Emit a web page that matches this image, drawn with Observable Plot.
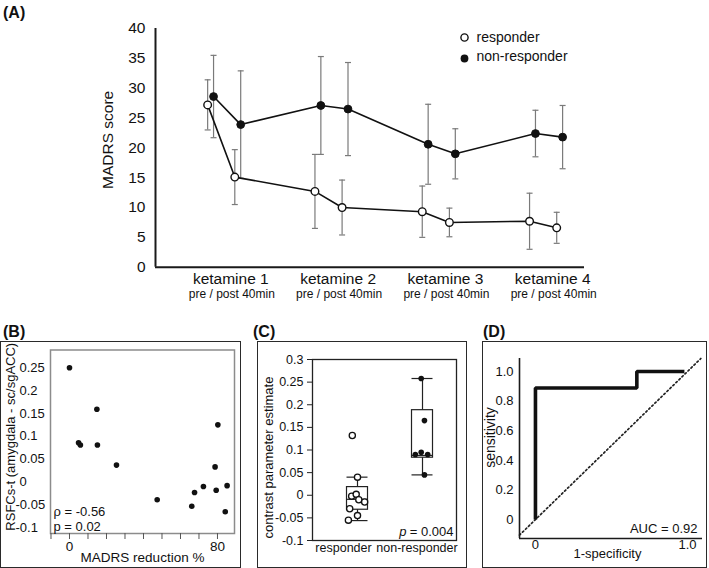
<!DOCTYPE html>
<html><head><meta charset="utf-8">
<script src="https://cdn.jsdelivr.net/npm/d3@7"></script>
<script src="https://cdn.jsdelivr.net/npm/@observablehq/plot@0.6"></script>
<style>
body{margin:0;background:#fff;font-family:"Liberation Sans",Arial,sans-serif;}
#root{position:relative;width:709px;height:568px;overflow:hidden;background:#fff;}
.panel{position:absolute;}
.box{position:absolute;border:1.5px solid #2a2a2a;box-sizing:border-box;}
.lab{position:absolute;font-weight:bold;font-size:16px;color:#111;line-height:16px;}
</style></head><body><div id="root"></div>
<script>
// ---------- Panel A data ----------
const sessions = ["ketamine 1", "ketamine 2", "ketamine 3", "ketamine 4"];
const sessionSub = "pre / post 40min";
const phases = ["pre", "post"];
const groups = ["responder", "non-responder"];
const responderMean = [27.2, 15.1, 12.7, 10.0, 9.3, 7.5, 7.7, 6.6];
const responderSD = [4.2, 4.6, 6.2, 4.6, 4.3, 2.4, 4.7, 2.6];
const nonResponderMean = [28.6, 23.9, 27.1, 26.5, 20.6, 19.0, 22.4, 21.8];
const nonResponderSD = [6.9, 9.0, 8.2, 7.8, 6.7, 4.2, 3.9, 5.3];
const madrsTicks = [0, 5, 10, 15, 20, 25, 30, 35, 40];

// ---------- Panel B data ----------
const madrsReduction = [0, 4.9, 5.9, 14.8, 15.1, 25.4, 47.4, 66.1, 67.6, 72.4, 78.7, 79.3, 80.2, 84.2, 85.2];
const rsfcs = [0.25, 0.086, 0.081, 0.159, 0.081, 0.037, -0.039, -0.053, -0.023, -0.010, 0.033, -0.018, 0.125, -0.065, -0.008];
const bYTicks = [-0.1, -0.05, 0, 0.05, 0.1, 0.15, 0.2, 0.25];
const bXTicks = [-10, 0, 10, 20, 30, 40, 50, 60, 70, 80];
const bXLabels = [0, 80];
const rhoText = "ρ = -0.56";
const pBText = "p = 0.02";

// ---------- Panel C data ----------
const responderEst = [0.132, 0.040, -0.002, 0.002, -0.010, -0.015, -0.030, -0.045, -0.055];
const responderJitter = [-0.08, 0, -0.09, -0.02, 0.02, 0.11, -0.12, 0, -0.14];
const nonResponderEst = [0.258, 0.165, 0.090, 0.095, 0.090, 0.045];
const nonResponderJitter = [-0.02, 0.03, -0.11, -0.02, 0.08, 0.03];
const boxQ1 = [-0.032, 0.083];
const boxMedian = [-0.009, 0.088];
const boxQ3 = [0.018, 0.188];
const whiskerLow = [-0.056, 0.045];
const whiskerHigh = [0.040, 0.258];
const cYTicks = [-0.1, -0.05, 0, 0.05, 0.1, 0.15, 0.2, 0.25, 0.3];
const pCText = " = 0.004";

// ---------- Panel D data ----------
const fpr = [0, 0, 0.667, 0.667, 0.98];
const tpr = [0, 0.889, 0.889, 1, 1];
const dTicks = [0, 0.2, 0.4, 0.6, 0.8, 1.0];
const dXTicks = [0, 1];
const aucText = "AUC = 0.92";

// ---------- helpers ----------
const FONT = "'Liberation Sans', Arial, sans-serif";
const INK = "#111";
const root = document.getElementById("root");
function place(el, left, top) {
  const d = document.createElement("div");
  d.className = "panel"; d.style.left = left + "px"; d.style.top = top + "px";
  d.appendChild(el); root.appendChild(d);
}
function box(left, top, w, h) {
  const d = document.createElement("div");
  d.className = "box";
  Object.assign(d.style, {left: left + "px", top: top + "px", width: w + "px", height: h + "px"});
  root.appendChild(d);
}
function label(t, left, top) {
  const d = document.createElement("div");
  d.className = "lab"; d.textContent = t;
  d.style.left = left + "px"; d.style.top = top + "px";
  root.appendChild(d);
}
const numFmt = d => String(+d.toFixed(2));
const capSymbol = {draw(ctx, size) { const w = Math.sqrt(size / Math.PI); ctx.moveTo(-w, 0); ctx.lineTo(w, 0); }};
const svgStyle = {fontFamily: FONT, color: INK, background: "transparent", overflow: "visible"};
const T = {textAnchor: "middle", lineAnchor: "middle"};

// ---------- Panel A ----------
const rowsA = [];
sessions.forEach((s, i) => {
  phases.forEach((p, j) => {
    const k = i * 2 + j;
    const base = (i + 1) + (p === "pre" ? -0.253 : 0);
    rowsA.push({group: groups[0], x: base, y: responderMean[k], sd: responderSD[k]});
    rowsA.push({group: groups[1], x: base + 0.055, y: nonResponderMean[k], sd: nonResponderSD[k]});
  });
});
const aX = [0.261, 4.259];
const resA = rowsA.filter(d => d.group === groups[0]);
const nonA = rowsA.filter(d => d.group === groups[1]);
const plotA = Plot.plot({
  width: 709, height: 310,
  marginLeft: 155, marginRight: 125, marginTop: 28, marginBottom: 43.3,
  style: svgStyle,
  x: {domain: aX},
  y: {domain: [0, 40]},
  marks: [
    Plot.ruleX(rowsA, {x: "x", y1: d => d.y - d.sd, y2: d => d.y + d.sd, stroke: "#7a7a7a", strokeWidth: 1.2}),
    Plot.dot(rowsA, {x: "x", y: d => d.y + d.sd, symbol: capSymbol, r: 3, stroke: "#7a7a7a", strokeWidth: 1.2}),
    Plot.dot(rowsA, {x: "x", y: d => d.y - d.sd, symbol: capSymbol, r: 3, stroke: "#7a7a7a", strokeWidth: 1.2}),
    Plot.line(resA, {x: "x", y: "y", stroke: INK, strokeWidth: 1.6}),
    Plot.line(nonA, {x: "x", y: "y", stroke: INK, strokeWidth: 1.6}),
    Plot.dot(resA, {x: "x", y: "y", r: 3.8, fill: "white", stroke: INK, strokeWidth: 1.4}),
    Plot.dot(nonA, {x: "x", y: "y", r: 3.9, fill: INK, stroke: INK, strokeWidth: 1}),
    Plot.ruleX([aX[0]], {stroke: "#1a1a1a", strokeWidth: 2}),
    Plot.ruleY([0], {stroke: "#1a1a1a", strokeWidth: 2}),
    Plot.axisY({ticks: madrsTicks, tickSize: 0, tickPadding: 10, fontSize: 15.5, label: null}),
    Plot.axisX({ticks: [1, 2, 3, 4], tickFormat: d => sessions[d - 1], tickSize: 0, tickPadding: 6, fontSize: 15.5, dx: -4, label: null}),
    Plot.axisX({ticks: [1, 2, 3, 4], tickFormat: () => sessionSub, tickSize: 0, tickPadding: 22, fontSize: 12, dx: -3, label: null}),
    Plot.text(["MADRS score"], {...T, frameAnchor: "left", rotate: -90, dx: -47, dy: -8, fontSize: 15.5}),
    Plot.dot([groups[0]], {frameAnchor: "top-right", dx: -120, dy: 9, r: 3.6, fill: "white", stroke: INK, strokeWidth: 1.4}),
    Plot.dot([groups[1]], {frameAnchor: "top-right", dx: -120, dy: 30, r: 3.9, fill: INK}),
    Plot.text([groups[0]], {text: d => d, frameAnchor: "top-right", dx: -108, dy: 9, textAnchor: "start", lineAnchor: "middle", fontSize: 14}),
    Plot.text([groups[1]], {text: d => d, frameAnchor: "top-right", dx: -108, dy: 28, textAnchor: "start", lineAnchor: "middle", fontSize: 14})
  ]
});
place(plotA, 0, 0);
label("(A)", 3, 5);

// ---------- Panel B ----------
const ptsB = madrsReduction.map((x, i) => ({x, y: rsfcs[i]}));
const plotB = Plot.plot({
  width: 241, height: 226,
  marginLeft: 50, marginRight: 7, marginTop: 7.5, marginBottom: 35,
  style: svgStyle,
  x: {domain: [-10.27, 89.2]},
  y: {domain: [-0.1127, 0.2888]},
  marks: [
    Plot.frame({stroke: "#8c8c8c", strokeWidth: 1.5}),
    Plot.axisY({ticks: bYTicks.filter(d => d >= 0), tickFormat: numFmt, tickSize: 0, tickPadding: 31, textAnchor: "start", fontSize: 13, label: null}),
    Plot.axisY({ticks: bYTicks.filter(d => d < 0), tickFormat: numFmt, tickSize: 0, tickPadding: 35, textAnchor: "start", fontSize: 13, label: null}),
    Plot.axisX({ticks: bXTicks, tickFormat: d => bXLabels.includes(d) ? String(d) : "", tickSize: 6, tickPadding: 1.5, fontSize: 13.5, stroke: "#555", label: null}),
    Plot.dot(ptsB, {x: "x", y: "y", r: 2.8, fill: INK}),
    Plot.text(["RSFCs-t (amygdala - sc/sgACC)"], {...T, frameAnchor: "left", rotate: -90, dx: -40, dy: -5, fontSize: 13}),
    Plot.text(["MADRS reduction %"], {...T, frameAnchor: "bottom", dy: 24, fontSize: 13.5}),
    Plot.text([rhoText], {frameAnchor: "bottom-left", dx: 3, dy: -22, textAnchor: "start", lineAnchor: "middle", fontSize: 13}),
    Plot.text([pBText], {frameAnchor: "bottom-left", dx: 3, dy: -7, textAnchor: "start", lineAnchor: "middle", fontSize: 13})
  ]
});
box(0, 341, 241, 226.5);
place(plotB, 0, 342);
label("(B)", 3, 324);

// ---------- Panel C ----------
const hw = 0.1615;
const boxes = [1, 2].map((x, i) => ({x, q1: boxQ1[i], med: boxMedian[i], q3: boxQ3[i], lo: whiskerLow[i], hi: whiskerHigh[i]}));
const ptsCr = responderEst.map((y, i) => ({x: 1 + responderJitter[i], y}));
const ptsCn = nonResponderEst.map((y, i) => ({x: 2 + nonResponderJitter[i], y}));
const plotC = Plot.plot({
  width: 209, height: 226,
  marginLeft: 55, marginRight: 10, marginTop: 17, marginBottom: 28,
  style: svgStyle,
  x: {domain: [0.3077, 2.523], axis: null},
  y: {domain: [-0.1, 0.3], axis: null},
  marks: [
    Plot.ruleX(boxes, {x: "x", y1: "lo", y2: "hi", stroke: "#222", strokeWidth: 1.2}),
    Plot.ruleY(boxes, {y: "hi", x1: d => d.x - hw, x2: d => d.x + hw, stroke: "#222", strokeWidth: 1.2}),
    Plot.ruleY(boxes, {y: "lo", x1: d => d.x - hw, x2: d => d.x + hw, stroke: "#222", strokeWidth: 1.2}),
    Plot.rect(boxes, {x1: d => d.x - hw, x2: d => d.x + hw, y1: "q1", y2: "q3", fill: "white", stroke: "#222", strokeWidth: 1.2}),
    Plot.ruleY(boxes, {y: "med", x1: d => d.x - hw, x2: d => d.x + hw, stroke: "#222", strokeWidth: 1.2}),
    Plot.dot(ptsCr, {x: "x", y: "y", r: 3.1, fill: "white", stroke: INK, strokeWidth: 1.3}),
    Plot.dot(ptsCn, {x: "x", y: "y", r: 2.8, fill: INK}),
    Plot.frame({stroke: "#222", strokeWidth: 1.3}),
    Plot.axisY({ticks: cYTicks, tickFormat: numFmt, tickSize: 5, tickPadding: 4, fontSize: 12.5, stroke: "#222", label: null}),
    Plot.text([groups[0]], {...T, text: d => d, x: 1, frameAnchor: "bottom", dx: -14, dy: 7, fontSize: 12.5}),
    Plot.text([groups[1]], {...T, text: d => d, x: 2, frameAnchor: "bottom", dx: -5.5, dy: 7, fontSize: 12.5}),
    Plot.text([pCText], {frameAnchor: "bottom-right", dx: -3, dy: -9, textAnchor: "end", lineAnchor: "middle", fontSize: 13}),
    Plot.text(["p"], {frameAnchor: "bottom-right", dx: -50, dy: -9, textAnchor: "end", lineAnchor: "middle", fontSize: 13, fontStyle: "italic"}),
    Plot.text(["contrast parameter estimate"], {...T, frameAnchor: "left", rotate: -90, dx: -44, dy: 7.5, fontSize: 13})
  ]
});
box(257, 341, 209.5, 226.5);
place(plotC, 257, 342);
label("(C)", 253, 324);

// ---------- Panel D ----------
const dX = [-0.105, 1.099];
const dY = [-0.128, 1.088];
const roc = fpr.map((x, i) => ({x, y: tpr[i]}));
const diag = [dX[0], dY[1]];
const plotD = Plot.plot({
  width: 225, height: 226,
  marginLeft: 37, marginRight: 5, marginTop: 16, marginBottom: 30,
  style: svgStyle,
  x: {domain: dX},
  y: {domain: dY},
  marks: [
    Plot.line(diag, {x: d => d, y: d => d, stroke: "#222", strokeWidth: 1.7, strokeDasharray: "1.6,2.6"}),
    Plot.line(roc, {x: "x", y: "y", stroke: INK, strokeWidth: 3.6, strokeLinejoin: "miter", strokeLinecap: "butt"}),
    Plot.ruleX([dX[0]], {stroke: "#1a1a1a", strokeWidth: 1.6}),
    Plot.ruleY([dY[0]], {stroke: "#1a1a1a", strokeWidth: 1.6}),
    Plot.axisY({ticks: dTicks, tickFormat: d => d === 0 ? "0" : d.toFixed(1), tickSize: 0, tickPadding: 6, fontSize: 13, label: null}),
    Plot.axisX({ticks: dXTicks, tickFormat: d => d === 0 ? "0" : d.toFixed(1), tickSize: 0, tickPadding: 1, fontSize: 13, label: null}),
    Plot.text(["1-specificity"], {...T, frameAnchor: "bottom", dx: -3.5, dy: 15, fontSize: 13}),
    Plot.text(["sensitivity"], {...T, frameAnchor: "left", rotate: -90, dx: -29, dy: -11, fontSize: 14}),
    Plot.text([aucText], {frameAnchor: "bottom-right", dx: -5, dy: -10, textAnchor: "end", lineAnchor: "middle", fontSize: 13})
  ]
});
box(482, 341, 225, 226.5);
place(plotD, 482, 342);
label("(D)", 483, 324);
</script></body></html>
